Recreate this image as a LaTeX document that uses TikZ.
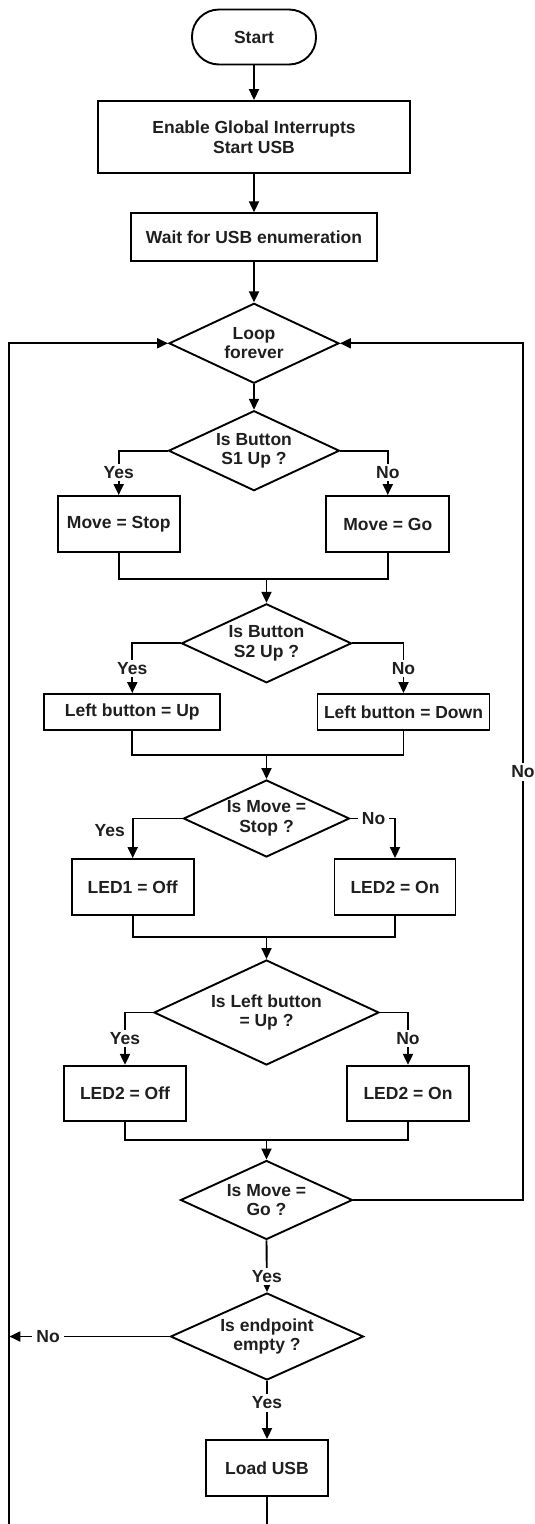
\documentclass[tikz,border=0pt]{standalone}
\usepackage{fontspec}
\setmainfont{Liberation Sans}
\usetikzlibrary{shapes.geometric,arrows.meta}
\newcommand{\flowfont}{\fontsize{17.5}{19.5}\selectfont\bfseries}
\tikzset{
  line/.style={draw=black, line width=1.9pt},
  arr/.style={line, -{Triangle[length=11pt,width=10pt]}},
  box/.style={draw=black, line width=1.9pt, rectangle, inner sep=0pt, align=center, font=\flowfont, text=black!88},
  term/.style={box, rounded corners=27pt},
  dec/.style={draw=black, line width=1.9pt, diamond, inner sep=0pt},
  dtext/.style={font=\flowfont, align=center, text=black!88, inner sep=0pt},
  lab/.style={font=\flowfont, fill=white, inner sep=2.5pt, text=black!88},
  labplain/.style={font=\flowfont, inner sep=2pt, text=black!88}
}
\begin{document}
\begin{tikzpicture}[x=1pt,y=-1pt]
\useasboundingbox (0,0) rectangle (535,1524);

% nodes
\node[term, minimum width=124pt, minimum height=55pt] (start) at (254,37) {Start};
\node[box, minimum width=312pt, minimum height=72pt] (enable) at (254,137) {Enable Global Interrupts\\Start USB};
\node[box, minimum width=246pt, minimum height=48pt] (wait) at (254,237.3) {Wait for USB enumeration};
\node[dec, minimum width=170pt, minimum height=80pt,
  label={[dtext]center:{Loop\\forever}}] (loop) at (254,343.3) {};
\node[dec, minimum width=171pt, minimum height=80pt,
  label={[dtext]center:{Is Button\\S1 Up ?}}] (s1) at (254,450.7) {};
\node[box, minimum width=122pt, minimum height=56pt] (mstop) at (118.7,524) {Move = Stop};
\node[box, minimum width=123pt, minimum height=56pt] (mgo) at (387.8,524) {Move = Go};
\coordinate (m1) at (266.5,579);
\node[dec, minimum width=170pt, minimum height=79pt,
  label={[dtext]center:{Is Button\\S2 Up ?}}] (s2) at (266.5,643.3) {};
\node[box, minimum width=176pt, minimum height=36pt] (lup) at (132.3,712) {Left button = Up};
\node[box, minimum width=172pt, minimum height=36pt] (ldown) at (403.5,712) {Left button = Down};
\coordinate (m2) at (266.5,755.3);
\node[dec, minimum width=166pt, minimum height=77pt,
  label={[dtext]center:{Is Move =\\Stop ?}}] (dstop) at (266.5,818.5) {};
\node[box, minimum width=122pt, minimum height=56pt] (led1) at (132.7,887) {LED1 = Off};
\node[box, minimum width=121pt, minimum height=56pt] (led2a) at (395,887) {LED2 = On};
\coordinate (m3) at (266.5,936.7);
\node[dec, minimum width=225pt, minimum height=105pt,
  label={[dtext]center:{Is Left button\\= Up ?}}] (dleft) at (266.5,1012.5) {};
\node[box, minimum width=122pt, minimum height=55pt] (led2b) at (125,1093.3) {LED2 = Off};
\node[box, minimum width=122pt, minimum height=55pt] (led2c) at (408,1093.3) {LED2 = On};
\coordinate (m4) at (266.5,1140);
\node[dec, minimum width=172pt, minimum height=79pt,
  label={[dtext]center:{Is Move =\\Go ?}}] (dgo) at (266.5,1200) {};
\node[dec, minimum width=193pt, minimum height=87pt,
  label={[dtext]center:{Is endpoint\\empty ?}}] (dend) at (267,1336.5) {};
\node[box, minimum width=122pt, minimum height=56pt] (load) at (267,1468) {Load USB};

\coordinate (rt) at (523,343.3);
\coordinate (rb) at (523,1200);
\coordinate (lt) at (9.3,343.3);
\coordinate (lb) at (9.3,1524);
\coordinate (lend) at (267,1524);

% connectors
\draw[arr] (start) -- (enable);
\draw[arr] (enable) -- (wait);
\draw[arr] (wait) -- (loop);
\draw[arr] (loop) -- (s1);

\draw[arr] (s1.west) -| node[lab, pos=0.75] {Yes} (mstop.north);
\draw[arr] (s1.east) -| node[lab, pos=0.75] {No} (mgo.north);
\draw[line] (mstop.south) |- (m1) -| (mgo.south);
\draw[arr] (m1) -- (s2);

\draw[arr] (s2.west) -| node[lab, pos=0.75] {Yes} (lup.north);
\draw[arr] (s2.east) -| node[lab, pos=0.75] {No} (ldown.north);
\draw[line] (lup.south) |- (m2) -| (ldown.south);
\draw[arr] (m2) -- (dstop);

\draw[arr] (dstop.west) -| node[labplain, pos=0.65, left=5pt] {Yes} (led1.north);
\draw[arr] (dstop.east) -| node[lab, pos=0.26, inner sep=3.5pt] {No} (led2a.north);
\draw[line] (led1.south) |- (m3) -| (led2a.south);
\draw[arr] (m3) -- (dleft);

\draw[arr] (dleft.west) -| node[lab, pos=0.75] {Yes} (led2b.north);
\draw[arr] (dleft.east) -| node[lab, pos=0.75] {No} (led2c.north);
\draw[line] (led2b.south) |- (m4) -| (led2c.south);
\draw[arr] (m4) -- (dgo);

\draw[arr] (dgo.east) -- (rb) -- node[lab, inner sep=3pt] {No} (rt) -- (loop.east);
\draw[arr] (dgo.south) -- node[lab, pos=0.7] {Yes} (dend.north);
\draw[arr] (dend.west) -- node[lab, pos=0.758, inner sep=4pt] {No} (dend.west -| lt);
\draw[arr] (dend.south) -- node[lab, pos=0.38] {Yes} (load.north);
\draw[line] (load.south) -- (lend);
\draw[arr] (lb) -- (lt) -- (loop.west);
\end{tikzpicture}
\end{document}
